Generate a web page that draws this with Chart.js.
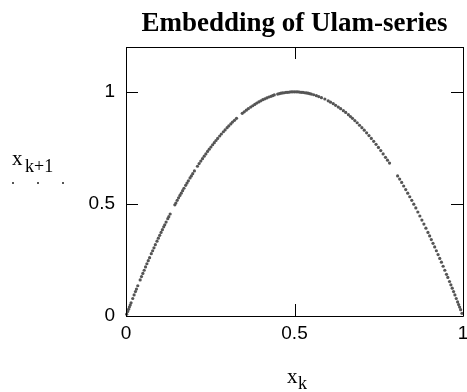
<!DOCTYPE html>
<html>
<head>
<meta charset="utf-8">
<script src="https://cdn.jsdelivr.net/npm/chart.js@4.4.0/dist/chart.umd.min.js"></script>
<style>
    html, body { margin: 0; padding: 0; background: #fff; }
</style>
</head>
<body>
<canvas id="ulamChart" width="467" height="392"></canvas>
<script>
// Datos
var chartTitle = 'Embedding of Ulam-series';
var xTicks = [0, 0.5, 1];
var yTicks = [0, 0.5, 1];

var xk = [0.002, 0.005, 0.01, 0.015, 0.02, 0.028, 0.035, 0.042, 0.05, 0.058,
    0.066, 0.075, 0.083, 0.092, 0.10, 0.108, 0.115, 0.124, 0.131, 0.145,
    0.152, 0.16, 0.168, 0.177, 0.185, 0.194, 0.203, 0.212, 0.222, 0.232,
    0.242, 0.252, 0.262, 0.272, 0.283, 0.294, 0.305, 0.316, 0.328, 0.345,
    0.357, 0.37, 0.382, 0.394, 0.406, 0.418, 0.43, 0.44, 0.45, 0.46,
    0.47, 0.48, 0.49, 0.50, 0.51, 0.52, 0.53, 0.54, 0.55, 0.565,
    0.58, 0.60, 0.615, 0.63, 0.645, 0.66, 0.672, 0.686, 0.70, 0.714,
    0.728, 0.742, 0.756, 0.77, 0.782, 0.806, 0.812, 0.824, 0.836, 0.848,
    0.86, 0.872, 0.884, 0.896, 0.906, 0.916, 0.926, 0.936, 0.946, 0.955,
    0.964, 0.972, 0.98, 0.987, 0.993, 0.997,
    0.0075, 0.0125, 0.024, 0.031, 0.046, 0.054, 0.062, 0.070, 0.079, 0.087,
    0.096, 0.104, 0.112, 0.119, 0.127, 0.148, 0.156, 0.164, 0.172, 0.181,
    0.190, 0.198, 0.217, 0.227, 0.237, 0.247, 0.257, 0.267, 0.278, 0.289,
    0.300, 0.311, 0.322, 0.351, 0.363, 0.376, 0.388, 0.400, 0.412, 0.424,
    0.435, 0.455, 0.465, 0.475, 0.485, 0.495, 0.505, 0.515, 0.525, 0.535,
    0.545, 0.557, 0.572, 0.59, 0.607, 0.622, 0.637, 0.652, 0.666, 0.679,
    0.693, 0.707, 0.721, 0.735, 0.749, 0.763, 0.776, 0.818, 0.830, 0.842,
    0.854, 0.866, 0.878, 0.890, 0.901, 0.911, 0.921, 0.931, 0.941, 0.951,
    0.960, 0.968, 0.976, 0.984, 0.990];

var xk1 = [0.008, 0.020, 0.040, 0.059, 0.078, 0.109, 0.135, 0.161, 0.19, 0.219,
    0.247, 0.278, 0.304, 0.334, 0.36, 0.385, 0.407, 0.434, 0.455, 0.496,
    0.516, 0.538, 0.559, 0.583, 0.603, 0.625, 0.647, 0.668, 0.691, 0.713,
    0.734, 0.754, 0.773, 0.792, 0.812, 0.830, 0.848, 0.865, 0.882, 0.904,
    0.918, 0.932, 0.944, 0.955, 0.965, 0.973, 0.980, 0.986, 0.99, 0.994,
    0.996, 0.998, 1.0, 1.0, 1.0, 0.998, 0.996, 0.994, 0.99, 0.983,
    0.974, 0.96, 0.947, 0.932, 0.916, 0.898, 0.882, 0.862, 0.84, 0.817,
    0.792, 0.766, 0.738, 0.708, 0.682, 0.625, 0.611, 0.580, 0.548, 0.516,
    0.482, 0.446, 0.410, 0.373, 0.341, 0.308, 0.274, 0.240, 0.204, 0.172,
    0.139, 0.109, 0.078, 0.051, 0.028, 0.012,
    0.030, 0.049, 0.094, 0.120, 0.176, 0.204, 0.233, 0.260, 0.291, 0.318,
    0.347, 0.373, 0.398, 0.419, 0.443, 0.504, 0.527, 0.548, 0.570, 0.593,
    0.616, 0.635, 0.680, 0.702, 0.723, 0.744, 0.764, 0.783, 0.803, 0.822,
    0.84, 0.857, 0.873, 0.911, 0.925, 0.938, 0.950, 0.96, 0.969, 0.977,
    0.983, 0.992, 0.995, 0.998, 0.999, 1.0, 1.0, 0.999, 0.998, 0.995,
    0.992, 0.987, 0.979, 0.968, 0.954, 0.940, 0.925, 0.908, 0.890, 0.872,
    0.851, 0.829, 0.805, 0.779, 0.752, 0.723, 0.695, 0.596, 0.564, 0.532,
    0.499, 0.464, 0.428, 0.392, 0.357, 0.324, 0.291, 0.257, 0.222, 0.186,
    0.154, 0.124, 0.094, 0.063, 0.040];

var pointColor = '#555555';

// Marco, marcas interiores y textos
var framePlugin = {
    id: 'frame',
    afterDraw: function(chart) {
        var ctx = chart.ctx;
        var a = chart.chartArea;
        var sx = chart.scales.x, sy = chart.scales.y;
        ctx.save();
        ctx.strokeStyle = '#000';
        ctx.lineWidth = 1;
        ctx.beginPath();
        ctx.rect(Math.round(a.left) + 0.5, Math.round(a.top) + 0.5,
            Math.round(a.right - a.left), Math.round(a.bottom - a.top));
        xTicks.forEach(function(v) {
            var px = Math.round(sx.getPixelForValue(v)) + 0.5;
            ctx.moveTo(px, a.bottom); ctx.lineTo(px, a.bottom - 12);
            ctx.moveTo(px, a.top); ctx.lineTo(px, a.top + 12);
        });
        yTicks.forEach(function(v) {
            var py = Math.round(sy.getPixelForValue(v)) + 0.5;
            ctx.moveTo(a.left, py); ctx.lineTo(a.left + 12, py);
            ctx.moveTo(a.right, py); ctx.lineTo(a.right - 12, py);
        });
        ctx.stroke();

        ctx.fillStyle = '#000';
        ctx.textBaseline = 'alphabetic';
        ctx.textAlign = 'center';
        ctx.font = 'bold 27px "Liberation Serif"';
        ctx.fillText(chartTitle, (a.left + a.right) / 2, 31);

        ctx.textAlign = 'left';
        ctx.font = '21px "Liberation Serif"';
        ctx.fillText('x', 12, 165);
        ctx.font = '18px "Liberation Serif"';
        ctx.fillText('k+1', 25, 172);

        ctx.font = '21px "Liberation Serif"';
        ctx.fillText('x', 287, 383);
        ctx.font = '18px "Liberation Serif"';
        ctx.fillText('k', 298, 389);

        // simbolo de la serie
        ctx.fillStyle = pointColor;
        [13, 38, 63].forEach(function(px) {
            ctx.fillRect(px - 1, 182, 2, 2);
        });
        ctx.restore();
    }
};

var ctx = document.getElementById('ulamChart').getContext('2d');
var chart = new Chart(ctx, {
    type: 'scatter',
    data: {
        datasets: [{
            data: xk.map(function(x, i) { return { x: x, y: xk1[i] }; }),
            pointRadius: 1.6,
            pointBorderWidth: 0,
            pointBackgroundColor: pointColor,
            clip: false
        }]
    },
    options: {
        responsive: false,
        animation: false,
        layout: { padding: { top: 47, right: 4, left: 0, bottom: 0 } },
        plugins: {
            legend: { display: false },
            tooltip: { enabled: false },
            title: { display: false }
        },
        scales: {
            x: {
                type: 'linear',
                min: 0,
                max: 1,
                afterBuildTicks: function(s) { s.ticks = xTicks.map(function(v) { return { value: v }; }); },
                afterFit: function(s) { s.height = 76; s.paddingLeft = 0; s.paddingRight = 0; },
                grid: { display: false, drawTicks: false },
                border: { display: false },
                ticks: {
                    color: '#000',
                    padding: 6,
                    maxRotation: 0,
                    font: { family: 'Liberation Sans', size: 19 },
                    callback: function(v) { return String(v); }
                }
            },
            y: {
                type: 'linear',
                min: 0,
                max: 1.2,
                afterBuildTicks: function(s) { s.ticks = yTicks.map(function(v) { return { value: v }; }); },
                afterFit: function(s) { s.width = 126; s.paddingTop = 0; s.paddingBottom = 0; },
                grid: { display: false, drawTicks: false },
                border: { display: false },
                ticks: {
                    color: '#000',
                    padding: 11,
                    font: { family: 'Liberation Sans', size: 19 },
                    callback: function(v) { return String(v); }
                }
            }
        }
    },
    plugins: [framePlugin]
});
</script>
</body>
</html>
